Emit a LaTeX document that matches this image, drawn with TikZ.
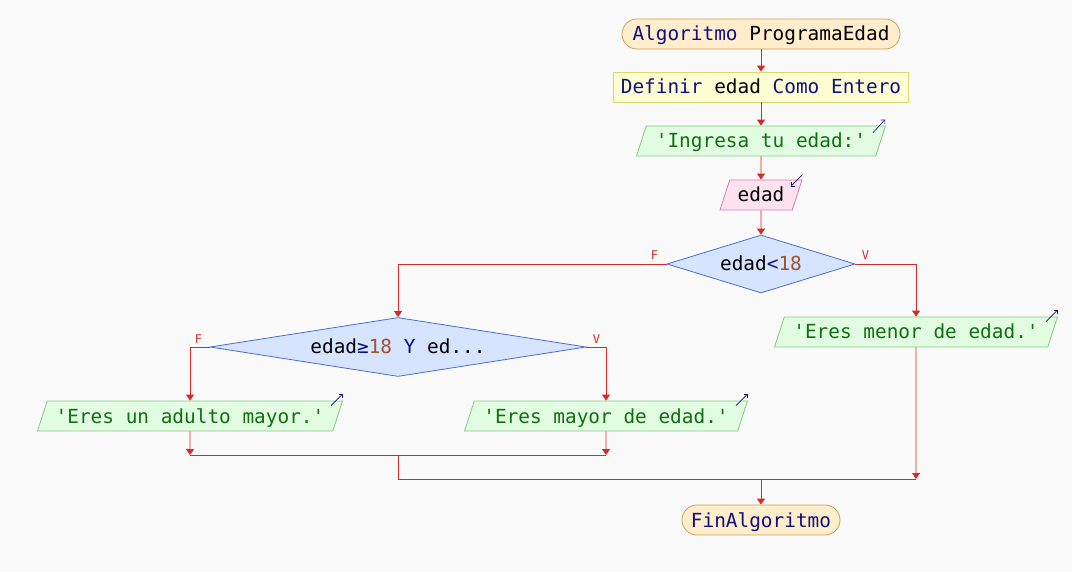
\documentclass[tikz,border=0pt]{standalone}
\usepackage{fontspec}
\setmonofont{DejaVu Sans Mono}
\usetikzlibrary{shapes.geometric,arrows.meta}
\definecolor{fondo}{HTML}{FAFAFA}
\definecolor{flujo}{HTML}{D42A2A}
\definecolor{clave}{HTML}{10107F}
\definecolor{numero}{HTML}{A0522D}
\definecolor{cadena}{HTML}{107010}
\definecolor{termfill}{HTML}{FFEDCC}
\definecolor{termline}{HTML}{D4A054}
\definecolor{deffill}{HTML}{FFFFD4}
\definecolor{defline}{HTML}{D8D870}
\definecolor{escfill}{HTML}{E2FCE2}
\definecolor{escline}{HTML}{80CC80}
\definecolor{leefill}{HTML}{FFE2F0}
\definecolor{leeline}{HTML}{D080A8}
\definecolor{condfill}{HTML}{D6E4FF}
\definecolor{condline}{HTML}{4C6CD4}
\newcommand{\kw}[1]{\textcolor{clave}{#1}}
\newcommand{\nro}[1]{\textcolor{numero}{#1}}
\newcommand{\cad}[1]{\textcolor{cadena}{#1}}
\begin{document}
\begin{tikzpicture}[x=1pt,y=-1pt,
        every node/.style={font=\ttfamily\fontsize{19.4}{23}\selectfont,inner xsep=0pt,inner ysep=6pt,text height=16pt,text depth=2pt},
        linea/.style={draw=flujo,line width=0.9pt},
        flecha/.style={linea,-{Triangle[width=8pt,length=6pt]}},
        marca/.style={draw=clave,line width=0.6pt,-{Straight Barb[length=3pt,width=6pt]}},
        terminal/.style={draw=termline,fill=termfill,line width=0.8pt,rounded corners=15pt,minimum height=30pt},
        proceso/.style={draw=defline,fill=deffill,line width=0.8pt,minimum height=30pt},
        paralelo/.style={trapezium,trapezium left angle=72,trapezium right angle=108,trapezium stretches body,line width=0.8pt},
        escribir/.style={paralelo,draw=escline,fill=escfill},
        leer/.style={paralelo,draw=leeline,fill=leefill},
        decision/.style={diamond,draw=condline,fill=condfill,line width=0.8pt,inner sep=0pt},
        rotulo/.style={font=\ttfamily\fontsize{12}{14}\selectfont,text=flujo,text height=9pt,text depth=0pt,inner ysep=0pt}]
        \fill[fondo] (0,0) rectangle (1072,572);
        \useasboundingbox (0,0) rectangle (1072,572);
        \node[terminal,minimum width=278pt] (inicio) at (761,34) {\kw{Algoritmo} ProgramaEdad};
        \node[proceso,minimum width=295pt] (definir) at (761,87) {\kw{Definir} edad \kw{Como Entero}};
        \node[escribir,minimum width=249pt] (ingresa) at (761,141) {\cad{'Ingresa tu edad:'}};
        \node[leer,minimum width=82pt] (edad) at (761,195) {edad};
        \node[decision,aspect=3.24,minimum width=188pt,minimum height=58pt] (menor18) at (761,264) {edad\kw{<}\nro{18}};
        \node[decision,aspect=6.37,minimum width=376pt,minimum height=59pt] (mayor18) at (398,347) {edad\kw{≥}\nro{18} \kw{Y} ed...};
        \node[escribir,minimum width=283pt] (menor) at (916,332) {\cad{'Eres menor de edad.'}};
        \node[escribir,minimum width=305pt] (adulto) at (190,416) {\cad{'Eres un adulto mayor.'}};
        \node[escribir,minimum width=283pt] (mayor) at (606,416) {\cad{'Eres mayor de edad.'}};
        \node[terminal,minimum width=158pt] (fin) at (761,520) {\kw{FinAlgoritmo}};
        \node[rotulo] (f1) at ([shift={(-12pt,9pt)}]menor18.west) {F};
        \node[rotulo] (v1) at ([shift={(10pt,9pt)}]menor18.east) {V};
        \node[rotulo] (f2) at ([shift={(-11pt,8pt)}]mayor18.west) {F};
        \node[rotulo] (v2) at ([shift={(10pt,8pt)}]mayor18.east) {V};
        \coordinate (fila1) at (0,455);
        \coordinate (fila2) at (0,479);
        \coordinate (jadulto) at (adulto.south |- fila1);
        \coordinate (jmayor) at (mayor.south |- fila1);
        \coordinate (jsi) at (mayor18.south |- fila1);
        \coordinate (jno) at (mayor18.south |- fila2);
        \coordinate (jmenor) at (menor.south |- fila2);
        \coordinate (jfin) at (fin.north |- fila2);
        \draw[flecha] (inicio) -- (definir);
        \draw[flecha] (definir) -- (ingresa);
        \draw[flecha] (ingresa) -- (edad);
        \draw[flecha] (edad) -- (menor18);
        \draw[flecha] (menor18.west) -| (mayor18.north);
        \draw[flecha] (menor18.east) -| (menor.north);
        \draw[flecha] (mayor18.west) -| (adulto.north);
        \draw[flecha] (mayor18.east) -| (mayor.north);
        \draw[flecha] (adulto) -- (jadulto);
        \draw[flecha] (mayor) -- (jmayor);
        \draw[linea] (jadulto) -- (jmayor);
        \draw[linea] (jsi) -- (jno) -- (jmenor);
        \draw[flecha] (menor) -- (jmenor);
        \draw[flecha] (jfin) -- (fin);
        \draw[marca] ([shift={(-13pt,-7pt)}]ingresa.top right corner) -- ([shift={(-1pt,6pt)}]ingresa.top right corner);
        \draw[marca] ([shift={(0pt,5pt)}]edad.top right corner) -- ([shift={(-12pt,-7pt)}]edad.top right corner);
        \draw[marca] ([shift={(-12pt,-5pt)}]menor.top right corner) -- ([shift={(0pt,7pt)}]menor.top right corner);
        \draw[marca] ([shift={(-12pt,-5pt)}]adulto.top right corner) -- ([shift={(0pt,7pt)}]adulto.top right corner);
        \draw[marca] ([shift={(-12pt,-5pt)}]mayor.top right corner) -- ([shift={(0pt,7pt)}]mayor.top right corner);
\end{tikzpicture}
\end{document}
